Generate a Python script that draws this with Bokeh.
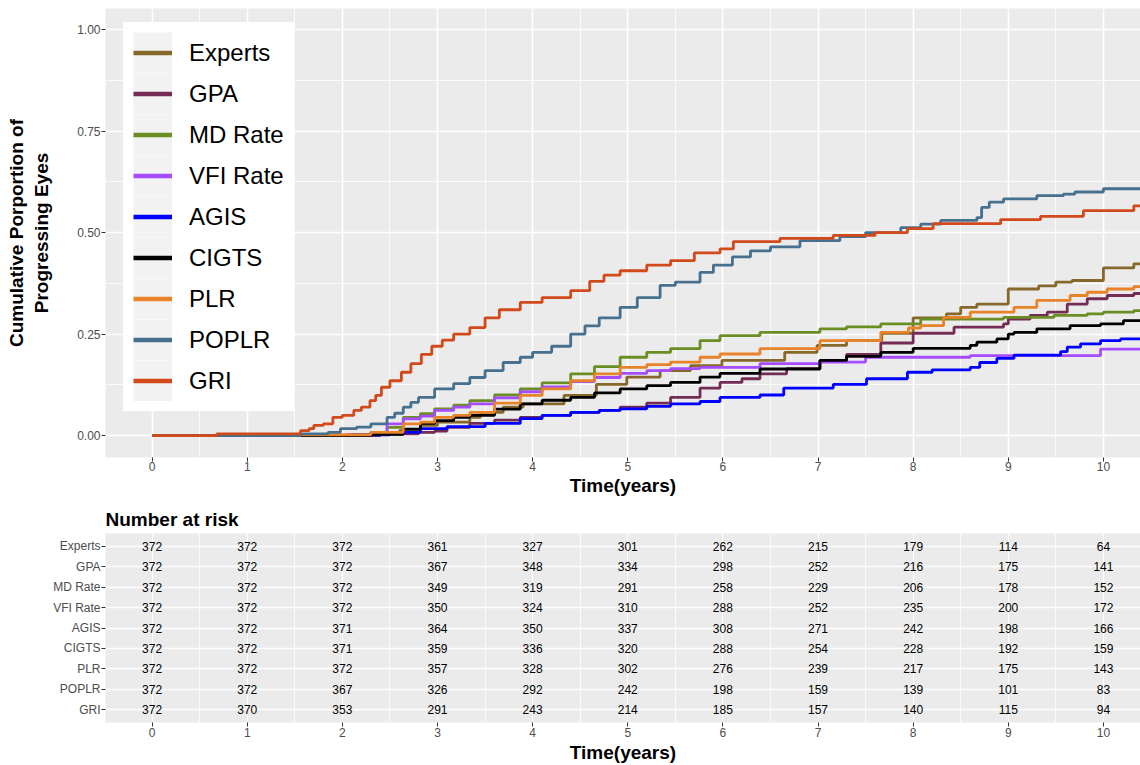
from bokeh.plotting import figure
from bokeh.models import (Range1d, FactorRange, FixedTicker, Legend, LegendItem,
                          ColumnDataSource, NumeralTickFormatter)
from bokeh.layouts import column
from bokeh.embed import file_html
from bokeh.resources import INLINE
from bokeh.core.properties import value

FONT = "Liberation Sans"

groups = ["Experts", "GPA", "MD Rate", "VFI Rate", "AGIS", "CIGTS", "PLR", "POPLR", "GRI"]
colors = ["#86692A", "#742C55", "#6B8E23", "#A54CFF", "#0000FF", "#000000",
          "#E8832A", "#47708F", "#D2491A"]

# ---- cumulative proportion curves (step functions) ----
experts_t = [0, 2.3, 2.6, 2.82, 3.0, 3.34, 3.45, 3.69, 3.9, 4.33, 4.67, 4.99, 5.34, 5.66, 5.99,
             6.65, 6.99, 7.3, 7.67, 8.0, 8.35, 8.5, 8.67, 9.0, 9.32, 9.5, 9.67, 10.0, 10.32, 10.45]
experts_v = [0, 0.005, 0.012, 0.025, 0.033, 0.045, 0.057, 0.07, 0.078, 0.099, 0.126, 0.144, 0.16,
             0.172, 0.185, 0.205, 0.222, 0.234, 0.252, 0.29, 0.3, 0.316, 0.324, 0.361, 0.369,
             0.378, 0.382, 0.413, 0.423, 0.423]

gpa_t = [0, 2.4, 2.64, 2.8, 2.97, 3.1, 3.34, 3.6, 3.87, 4.1, 4.4, 4.7, 4.92, 5.2, 5.45, 5.76,
         5.97, 6.2, 6.39, 6.67, 7.02, 7.3, 7.66, 8.0, 8.43, 8.95, 9.0, 9.23, 9.41, 9.62, 9.83,
         10.04, 10.32, 10.45]
gpa_v = [0, 0.003, 0.004, 0.008, 0.011, 0.02, 0.03, 0.038, 0.045, 0.05, 0.057, 0.062, 0.07, 0.08,
         0.094, 0.117, 0.131, 0.14, 0.152, 0.165, 0.185, 0.2, 0.228, 0.252, 0.267, 0.275, 0.287,
         0.296, 0.304, 0.324, 0.337, 0.345, 0.35, 0.35]

md_t = [0, 2.05, 2.3, 2.47, 2.64, 2.82, 2.97, 3.17, 3.34, 3.6, 3.87, 4.1, 4.4, 4.65, 4.92, 5.2,
        5.45, 5.76, 5.97, 6.39, 7.02, 7.3, 7.66, 8.08, 8.95, 9.48, 9.83, 10.0, 10.32, 10.45]
md_v = [0, 0.002, 0.008, 0.02, 0.045, 0.054, 0.066, 0.075, 0.086, 0.1, 0.115, 0.13, 0.152, 0.17,
        0.193, 0.205, 0.214, 0.234, 0.246, 0.254, 0.263, 0.268, 0.275, 0.287, 0.291, 0.296, 0.3,
        0.304, 0.308, 0.308]

vfi_t = [0, 2.05, 2.3, 2.47, 2.64, 2.82, 2.97, 3.17, 3.34, 3.6, 3.87, 4.1, 4.4, 4.65, 4.92, 5.2,
         5.45, 5.76, 6.39, 7.02, 7.5, 8.6, 9.97, 10.45]
vfi_v = [0, 0.003, 0.008, 0.029, 0.041, 0.048, 0.062, 0.07, 0.078, 0.093, 0.108, 0.12, 0.133,
         0.143, 0.153, 0.16, 0.165, 0.168, 0.177, 0.181, 0.193, 0.197, 0.213, 0.213]

agis_t = [0, 2.1, 2.5, 2.64, 2.82, 3.1, 3.5, 3.87, 4.1, 4.4, 4.7, 4.92, 5.2, 5.45, 5.76, 5.97,
          6.39, 6.64, 7.16, 7.51, 7.94, 8.2, 8.6, 8.7, 8.88, 9.06, 9.55, 9.62, 9.76, 9.97, 10.18,
          10.45]
agis_v = [0, 0.002, 0.005, 0.008, 0.017, 0.022, 0.03, 0.042, 0.05, 0.057, 0.062, 0.066, 0.072,
          0.078, 0.084, 0.094, 0.1, 0.117, 0.126, 0.14, 0.156, 0.162, 0.168, 0.18, 0.19, 0.198,
          0.207, 0.218, 0.226, 0.234, 0.238, 0.238]

cigts_t = [0, 2.3, 2.64, 2.82, 2.97, 3.17, 3.34, 3.6, 3.87, 4.1, 4.4, 4.65, 4.92, 5.2, 5.45,
           5.76, 5.97, 6.39, 7.02, 7.3, 7.66, 8.0, 8.6, 8.67, 8.88, 9.0, 9.06, 9.3, 9.65, 9.97,
           10.21, 10.45]
cigts_v = [0, 0.003, 0.016, 0.03, 0.037, 0.045, 0.05, 0.065, 0.078, 0.087, 0.094, 0.105, 0.115,
           0.123, 0.131, 0.144, 0.153, 0.164, 0.185, 0.195, 0.205, 0.215, 0.222, 0.23, 0.238,
           0.25, 0.254, 0.263, 0.271, 0.275, 0.283, 0.283]

plr_t = [0, 1.56, 2.3, 2.64, 2.82, 2.97, 3.17, 3.34, 3.6, 3.87, 4.1, 4.4, 4.65, 4.92, 5.2, 5.45,
         5.76, 5.97, 6.39, 7.02, 7.66, 7.95, 8.08, 8.32, 8.6, 9.06, 9.3, 9.65, 9.83, 10.04, 10.32,
         10.45]
plr_v = [0, 0.002, 0.008, 0.029, 0.033, 0.045, 0.05, 0.057, 0.08, 0.099, 0.115, 0.135, 0.152,
         0.168, 0.175, 0.181, 0.193, 0.201, 0.214, 0.234, 0.254, 0.265, 0.271, 0.291, 0.304,
         0.316, 0.333, 0.345, 0.353, 0.361, 0.367, 0.367]

poplr_t = [0, 1.56, 1.85, 1.98, 2.15, 2.3, 2.47, 2.55, 2.64, 2.72, 2.8, 2.97, 3.17, 3.34, 3.5,
           3.69, 3.87, 4.0, 4.2, 4.4, 4.55, 4.7, 4.92, 5.1, 5.34, 5.5, 5.76, 5.9, 6.1, 6.29, 6.5,
           6.81, 7.23, 7.5, 7.87, 8.08, 8.29, 8.67, 8.72, 8.8, 8.95, 9.3, 9.58, 9.7, 10.0, 10.45]
poplr_v = [0, 0.004, 0.008, 0.017, 0.021, 0.029, 0.045, 0.055, 0.07, 0.082, 0.094, 0.115, 0.128,
           0.143, 0.16, 0.18, 0.193, 0.205, 0.22, 0.25, 0.27, 0.29, 0.316, 0.34, 0.37, 0.378,
           0.402, 0.42, 0.44, 0.455, 0.465, 0.48, 0.49, 0.5, 0.512, 0.521, 0.53, 0.537, 0.562,
           0.575, 0.583, 0.591, 0.595, 0.6, 0.608, 0.61]

gri_t = [0, 0.68, 1.56, 1.65, 1.7, 1.8, 1.9, 2.0, 2.12, 2.2, 2.29, 2.35, 2.41, 2.5, 2.62, 2.72,
         2.83, 2.94, 3.05, 3.17, 3.34, 3.5, 3.65, 3.87, 4.1, 4.4, 4.6, 4.75, 4.92, 5.2, 5.45, 5.7,
         5.97, 6.11, 6.6, 7.16, 7.6, 7.94, 8.21, 8.92, 9.34, 9.79, 10.32, 10.45]
gri_v = [0, 0.004, 0.012, 0.017, 0.025, 0.029, 0.045, 0.05, 0.062, 0.07, 0.086, 0.099, 0.119,
         0.135, 0.156, 0.177, 0.2, 0.22, 0.235, 0.25, 0.266, 0.29, 0.31, 0.328, 0.34, 0.357, 0.38,
         0.395, 0.406, 0.42, 0.431, 0.45, 0.46, 0.478, 0.486, 0.493, 0.5, 0.51, 0.522, 0.532,
         0.54, 0.554, 0.566, 0.566]

curves_t = [experts_t, gpa_t, md_t, vfi_t, agis_t, cigts_t, plr_t, poplr_t, gri_t]
curves_v = [experts_v, gpa_v, md_v, vfi_v, agis_v, cigts_v, plr_v, poplr_v, gri_v]

# ---- number at risk table ----
risk_times = [0, 1, 2, 3, 4, 5, 6, 7, 8, 9, 10]
risk_experts = [372, 372, 372, 361, 327, 301, 262, 215, 179, 114, 64]
risk_gpa = [372, 372, 372, 367, 348, 334, 298, 252, 216, 175, 141]
risk_md = [372, 372, 372, 349, 319, 291, 258, 229, 206, 178, 152]
risk_vfi = [372, 372, 372, 350, 324, 310, 288, 252, 235, 200, 172]
risk_agis = [372, 372, 371, 364, 350, 337, 308, 271, 242, 198, 166]
risk_cigts = [372, 372, 371, 359, 336, 320, 288, 254, 228, 192, 159]
risk_plr = [372, 372, 372, 357, 328, 302, 276, 239, 217, 175, 143]
risk_poplr = [372, 372, 367, 326, 292, 242, 198, 159, 139, 101, 83]
risk_gri = [372, 370, 353, 291, 243, 214, 185, 157, 140, 115, 94]
risk_all = [risk_experts, risk_gpa, risk_md, risk_vfi, risk_agis, risk_cigts, risk_plr,
            risk_poplr, risk_gri]

y_ticks = [0, 0.25, 0.5, 0.75, 1.0]
x_ticks = list(range(11))

XR = (-0.49, 10.39)
PANEL = "#EBEBEB"


def style_axis(ax):
    ax.axis_line_color = None
    ax.major_tick_line_color = "#333333"
    ax.major_tick_out = 4
    ax.major_tick_in = 0
    ax.minor_tick_line_color = None
    ax.major_label_text_font = FONT
    ax.major_label_text_font_size = "12px"
    ax.major_label_text_color = "#4D4D4D"
    ax.axis_label_text_font = FONT
    ax.axis_label_text_font_size = "19px"
    ax.axis_label_text_font_style = "bold"
    ax.axis_label_text_color = "black"
    ax.major_label_standoff = 1


# ---------------- top: curves ----------------
p = figure(width=1140, height=500, x_range=Range1d(*XR), y_range=Range1d(-0.054, 1.052),
           output_backend="svg", toolbar_location=None,
           min_border_left=105, min_border_right=0, min_border_top=8, min_border_bottom=43)
p.background_fill_color = PANEL
p.border_fill_color = "white"
p.outline_line_color = None
# off-screen range used only by the legend-key proxies (keeps them out of the panel)
p.extra_x_ranges = {"keys": Range1d(100, 101)}

minor_x = [i + 0.5 for i in range(-1, 11)]
minor_y = [-0.125 + 0.25 * i for i in range(6)]
p.xaxis.ticker = FixedTicker(ticks=x_ticks, minor_ticks=minor_x)
p.yaxis.ticker = FixedTicker(ticks=y_ticks, minor_ticks=minor_y)
p.yaxis.formatter = NumeralTickFormatter(format="0.00")
style_axis(p.xaxis[0])
style_axis(p.yaxis[0])
p.xaxis.axis_label = "Time(years)"
p.xaxis.axis_label_standoff = 1
p.xaxis.major_label_standoff = 0
p.yaxis.axis_label = "Cumulative Porportion of\nProgressing Eyes"
p.yaxis.axis_label_standoff = 22
for g in (p.xgrid[0], p.ygrid[0]):
    g.grid_line_color = "white"
    g.grid_line_width = 1.6
    g.minor_grid_line_color = "white"
    g.minor_grid_line_width = 0.8

items = []
for name, col, tt, vv in zip(groups, colors, curves_t, curves_v):
    p.step(x=tt, y=vv, mode="after", line_color=col, line_width=2.8)
    # legend key proxies on the off-screen range: grey key background + thick key line
    key_bg = p.quad(left=tt, right=tt, top=vv, bottom=vv, fill_color="#F2F2F2",
                    line_color="#F2F2F2", line_width=8, line_join="miter",
                    x_range_name="keys")
    key_line = p.line(x=tt, y=vv, line_color=col, line_width=4.5, x_range_name="keys")
    items.append(LegendItem(label=name, renderers=[key_bg, key_line]))

legend = Legend(items=items, location=(18, 46), background_fill_color="white",
                background_fill_alpha=1.0, border_line_color="white", border_line_alpha=1.0,
                border_line_width=1,
                label_text_font=FONT, label_text_font_size="24px", label_text_color="black",
                glyph_width=39, glyph_height=41, spacing=0, padding=9, label_standoff=17,
                margin=0)
p.add_layout(legend)

# ---------------- bottom: number at risk ----------------
q = figure(width=1140, height=265, x_range=Range1d(*XR),
           y_range=FactorRange(factors=groups[::-1], range_padding=0.11,
                               range_padding_units="absolute"),
           output_backend="svg", toolbar_location=None,
           min_border_left=105, min_border_right=0, min_border_top=33, min_border_bottom=41)
q.background_fill_color = PANEL
q.border_fill_color = "white"
q.outline_line_color = None
q.title.text = "Number at risk"
q.title.text_font = FONT
q.title.text_font_size = "19px"
q.title.text_font_style = "bold"
q.title.text_color = "black"
q.title.align = "left"
q.title.standoff = 8

q.xaxis.ticker = FixedTicker(ticks=x_ticks, minor_ticks=minor_x)
style_axis(q.xaxis[0])
style_axis(q.yaxis[0])
q.xaxis.major_label_standoff = 1
q.xaxis.axis_label = "Time(years)"
q.xaxis.axis_label_standoff = 2
q.xgrid.grid_line_color = "white"
q.xgrid.grid_line_width = 1.1
q.xgrid.minor_grid_line_color = "white"
q.xgrid.minor_grid_line_width = 0.8
q.ygrid.grid_line_color = "white"
q.ygrid.grid_line_width = 1.6

xs, ys, txt = [], [], []
for name, row in zip(groups, risk_all):
    for t, n in zip(risk_times, row):
        xs.append(t)
        ys.append(name)
        txt.append(str(n))
src = ColumnDataSource(data=dict(x=xs, y=ys, text=txt))
q.text(x="x", y="y", text="text", source=src, text_align="center", text_baseline="middle",
       text_font=value(FONT), text_font_size="12px", text_color="black")

layout = column(p, q, spacing=0)
open("out.html", "w").write(file_html(layout, INLINE))
